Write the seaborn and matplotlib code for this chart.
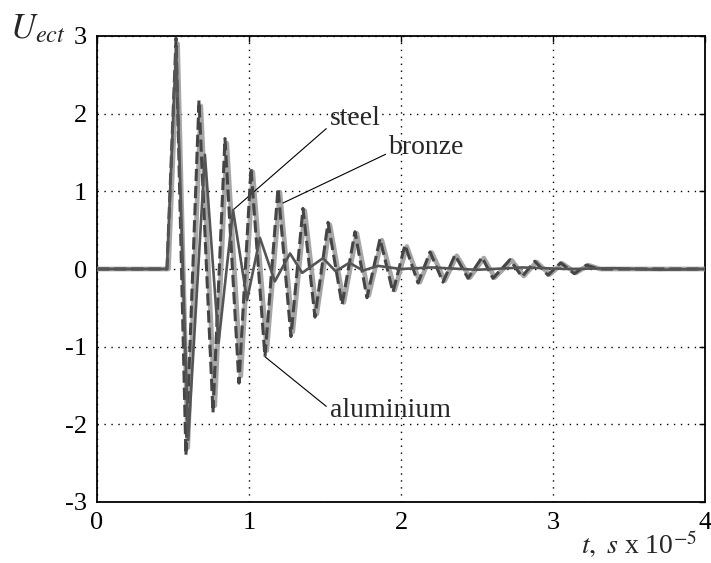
import matplotlib
matplotlib.use("Agg")
import numpy as np
import pandas as pd
import seaborn as sns
import matplotlib.pyplot as plt

# ---- data (t in units of 1e-5 s) ----
bronze_t = [0.0, 0.47, 0.53, 0.597, 0.683, 0.775, 0.854, 0.946, 1.025, 1.117, 1.203, 1.288,
            1.367, 1.446, 1.532, 1.624, 1.709, 1.788, 1.874, 1.959, 2.038, 2.124, 2.203,
            2.288, 2.367, 2.453, 2.545, 2.617, 2.729, 2.808, 2.892, 2.979, 3.062, 3.152,
            3.232, 3.31, 4.0]
bronze_u = [0.0, 0.0, 2.90, -2.30, 2.10, -1.76, 1.62, -1.38, 1.25, -1.05, 0.99, -0.81,
            0.75, -0.58, 0.57, -0.43, 0.46, -0.34, 0.37, -0.27, 0.29, -0.17, 0.21,
            -0.15, 0.17, -0.11, 0.14, -0.11, 0.11, -0.09, 0.09, -0.07, 0.07, -0.05,
            0.05, 0.0, 0.0]

aluminium_t = [0.0, 0.46, 0.52, 0.585, 0.671, 0.763, 0.842, 0.934, 1.013, 1.105, 1.191, 1.276,
               1.355, 1.434, 1.52, 1.612, 1.697, 1.776, 1.862, 1.947, 2.026, 2.112, 2.191,
               2.276, 2.355, 2.441, 2.533, 2.605, 2.717, 2.796, 2.88, 2.967, 3.05, 3.14,
               3.22, 3.3, 4.0]
aluminium_u = [0.0, 0.0, 2.97, -2.40, 2.17, -1.85, 1.68, -1.47, 1.30, -1.13, 1.04, -0.87,
               0.78, -0.62, 0.60, -0.46, 0.48, -0.37, 0.39, -0.30, 0.31, -0.18, 0.22,
               -0.17, 0.18, -0.12, 0.15, -0.12, 0.12, -0.10, 0.10, -0.08, 0.08, -0.06,
               0.05, 0.0, 0.0]

steel_t = [0.0, 0.46, 0.52, 0.60, 0.71, 0.80, 0.895, 0.987, 1.072, 1.17, 1.27, 1.35,
           1.487, 1.57, 1.66, 1.75, 1.85, 2.0, 2.2, 2.5, 2.8, 3.1, 3.4, 3.7, 4.0]
steel_u = [0.0, 0.0, 2.85, -2.20, 1.47, -0.95, 0.76, -0.40, 0.40, -0.16, 0.20, -0.05,
           0.14, -0.03, 0.08, -0.02, 0.04, 0.0, 0.02, -0.01, 0.02, 0.0, 0.01, -0.01, 0.0]

x_ticks = [0, 1, 2, 3, 4]
y_ticks = [-3, -2, -1, 0, 1, 2, 3]

# ---- styling ----
sns.set_style("white")
plt.rcParams["font.family"] = ["Liberation Serif", "DejaVu Serif"]
plt.rcParams["mathtext.fontset"] = "stix"

fig = plt.figure(figsize=(7.11, 5.63), dpi=100)
ax = fig.add_axes([97 / 711, 1 - 502 / 563, (705 - 97) / 711, (502 - 36) / 563])

df_b = pd.DataFrame({"t": bronze_t, "u": bronze_u})
df_a = pd.DataFrame({"t": aluminium_t, "u": aluminium_u})
df_s = pd.DataFrame({"t": steel_t, "u": steel_u})

sns.lineplot(data=df_b, x="t", y="u", ax=ax, sort=False, estimator=None,
             color="#a6a6a6", lw=3.4, zorder=3)
sns.lineplot(data=df_a, x="t", y="u", ax=ax, sort=False, estimator=None,
             color="#454545", lw=2.2, linestyle=(0, (4.0, 1.6)), zorder=4)
sns.lineplot(data=df_s, x="t", y="u", ax=ax, sort=False, estimator=None,
             color="#555555", lw=1.9, zorder=5)

ax.set_xlim(0, 4)
ax.set_ylim(-3, 3)
ax.set_xticks(x_ticks)
ax.set_yticks(y_ticks)
ax.set_xticklabels([str(v) for v in x_ticks])
ax.set_yticklabels([str(v) for v in y_ticks])
ax.set_xlabel("")
ax.set_ylabel("")
ax.grid(True, linestyle=(0, (1, 4)), color="black", lw=1.0)
ax.tick_params(direction="in", length=4, width=1, labelsize=19, top=True, right=True,
               pad=7, colors="black")
for sp in ax.spines.values():
    sp.set_color("black")
    sp.set_linewidth(1.3)
    sp.set_visible(True)

# annotations
line_kw = dict(arrowstyle="-", color="black", lw=0.8)
ax.annotate("steel", xy=(0.895, 0.76), xytext=(1.53, 1.78), fontsize=20,
            ha="left", va="bottom", arrowprops=dict(line_kw, shrinkA=0, shrinkB=0,
                                                   relpos=(0, 0.2)))
ax.annotate("bronze", xy=(1.224, 0.85), xytext=(1.92, 1.40), fontsize=20,
            ha="left", va="bottom", arrowprops=dict(line_kw, shrinkA=0, shrinkB=0,
                                                   relpos=(0, 0.3)))
ax.annotate("aluminium", xy=(1.105, -1.13), xytext=(1.53, -1.98), fontsize=20,
            ha="left", va="bottom", arrowprops=dict(line_kw, shrinkA=0, shrinkB=0,
                                                   relpos=(0, 0.55)))

# axis labels as in the reference
fig.text(10 / 711, 1 - 38 / 563, r"$U_{ect}$", fontsize=25, ha="left", va="baseline")
fig.text(697 / 711, 1 - 554 / 563, r"$t,\ s$ x 10$^{-5}$", fontsize=20,
         ha="right", va="baseline")

fig.savefig("out.png", dpi=100)
